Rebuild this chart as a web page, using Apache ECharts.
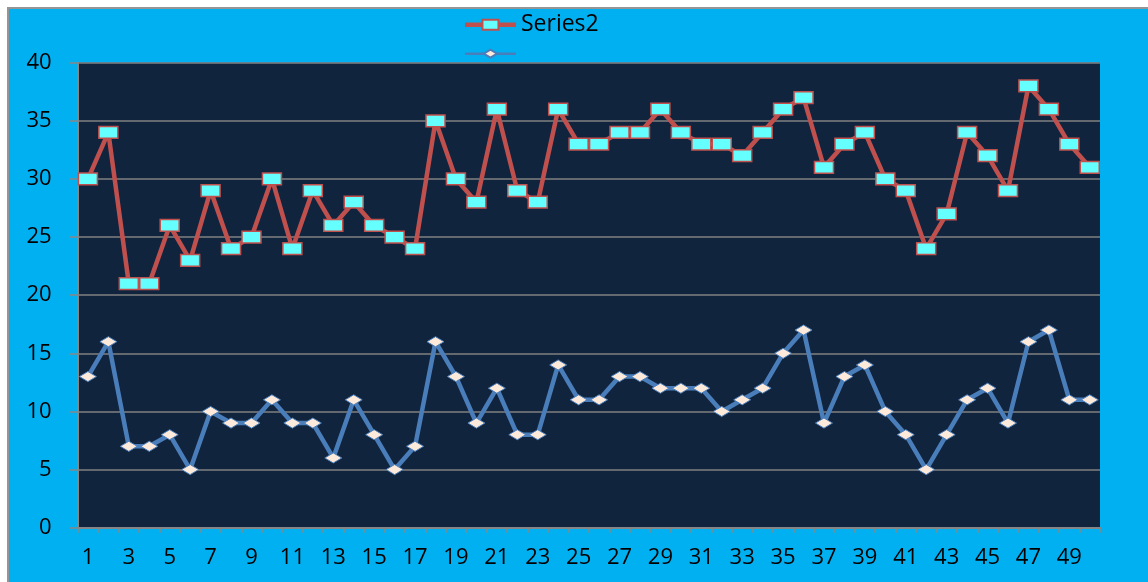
<!DOCTYPE html>
<html>
<head>
<meta charset="utf-8">
<script src="https://cdn.jsdelivr.net/npm/echarts@6/dist/echarts.min.js"></script>
<style>
  html, body { margin: 0; padding: 0; background: #ffffff; overflow: hidden; width: 1148px; height: 582px; }
  #wrap { position: absolute; left: 7px; top: 7px; border-top: 2px solid #959595; border-left: 2px solid #959595; }
  #chart { width: 1139px; height: 573px; }
</style>
</head>
<body>
<div id="wrap"><div id="chart"></div></div>
<script>
// ---- data ----
var categories = [];
for (var c = 1; c <= 50; c++) categories.push(String(c));

var series2Name = 'Series2';
var series2Values = [30, 34, 21, 21, 26, 23, 29, 24, 25, 30,
                     24, 29, 26, 28, 26, 25, 24, 35, 30, 28,
                     36, 29, 28, 36, 33, 33, 34, 34, 36, 34,
                     33, 33, 32, 34, 36, 37, 31, 33, 34, 30,
                     29, 24, 27, 34, 32, 29, 38, 36, 33, 31];

var series1Name = 'Series1';
var series1Values = [13, 16, 7, 7, 8, 5, 10, 9, 9, 11,
                     9, 9, 6, 11, 8, 5, 7, 16, 13, 9,
                     12, 8, 8, 14, 11, 11, 13, 13, 12, 12,
                     12, 10, 11, 12, 15, 17, 9, 13, 14, 10,
                     8, 5, 8, 11, 12, 9, 16, 17, 11, 11];

var yMin = 0, yMax = 40, yInterval = 5;

// ---- symbols (square bounding box so legend + series keep proportions) ----
var rectSymbol = 'path://M0,0Z M100,100Z M0,19L100,19L100,81L0,81Z';
var diamondSymbol = 'path://M0,0Z M100,100Z M8,50L50,25L92,50L50,75Z';

var chart = echarts.init(document.getElementById('chart'), null, { renderer: 'canvas' });
var axisFont = { fontFamily: 'Open Sans', fontSize: 22, color: '#000000' };

chart.setOption({
  animation: false,
  backgroundColor: '#00B0F0',
  textStyle: { fontFamily: 'Open Sans' },
  legend: {
    orient: 'vertical',
    left: 453.7,
    top: 4.3,
    itemWidth: 51,
    itemHeight: 20,
    itemGap: 7.4,
    padding: 0,
    textStyle: { fontFamily: 'Open Sans', fontSize: 23, color: '#000000' },
    formatter: function (name) { return name === series1Name ? '' : name; },
    data: [
      { name: series2Name, lineStyle: { color: '#C0504D', width: 4.5 } },
      { name: series1Name, lineStyle: { color: '#4A7EBB', width: 2.5 } }
    ]
  },
  grid: {
    left: 68.7,
    top: 53.7,
    right: 48,
    bottom: 54.3,
    show: true,
    backgroundColor: '#10243E',
    borderWidth: 0
  },
  xAxis: {
    type: 'category',
    data: categories,
    boundaryGap: true,
    axisLine: { show: true, lineStyle: { color: '#868686', width: 2 } },
    axisTick: { show: true, interval: 0, length: 5, lineStyle: { color: '#868686', width: 1.5 } },
    axisLabel: Object.assign({ interval: 1, margin: 19 }, axisFont),
    splitLine: { show: false }
  },
  yAxis: {
    type: 'value',
    min: yMin,
    max: yMax,
    interval: yInterval,
    axisLine: { show: true, lineStyle: { color: '#868686', width: 2 } },
    axisTick: { show: true, length: 8, lineStyle: { color: '#868686', width: 1.5 } },
    axisLabel: Object.assign({ margin: 26, padding: [10, 0, 0, 0], verticalAlign: 'middle' }, axisFont),
    splitLine: { show: true, lineStyle: { color: '#808080', width: 1.5 } }
  },
  series: [
    {
      name: series2Name,
      type: 'line',
      data: series2Values,
      showAllSymbol: true,
      symbol: rectSymbol,
      symbolSize: 19,
      lineStyle: { color: '#C0504D', width: 4.5 },
      itemStyle: { color: '#66FFFF', borderColor: '#C0504D', borderWidth: 1.5 },
      emphasis: { disabled: true },
      z: 3
    },
    {
      name: series1Name,
      type: 'line',
      data: series1Values,
      showAllSymbol: true,
      symbol: diamondSymbol,
      symbolSize: 20.2,
      lineStyle: { color: '#4A7EBB', width: 4.5 },
      itemStyle: { color: '#FDEADA', borderColor: '#4A7EBB', borderWidth: 1 },
      emphasis: { disabled: true },
      z: 2
    }
  ]
});
</script>
</body>
</html>
